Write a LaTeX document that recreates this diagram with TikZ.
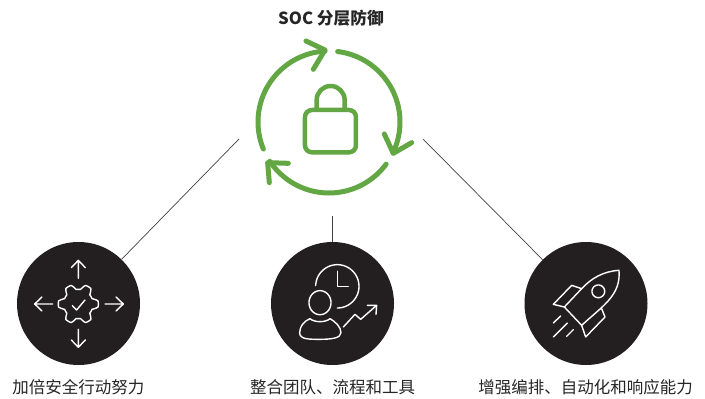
\documentclass[tikz,border=0pt]{standalone}
\usepackage{fontspec}
\setmainfont{Noto Sans CJK SC}
\definecolor{ringgreen}{HTML}{62A744}
\definecolor{discdark}{HTML}{231F20}
\definecolor{textdark}{HTML}{262626}
\tikzset{
  disc/.style={circle,fill=discdark,draw=none,minimum size=123pt,inner sep=0pt},
  link/.style={draw=discdark!85,line width=0.7pt},
  ringline/.style={draw=ringgreen,line width=5pt,line cap=round,line join=round},
  lockline/.style={draw=ringgreen,line width=4.5pt,line cap=round,line join=round},
  icon/.style={draw=white,line width=1.4pt,line cap=round,line join=round},
  caption/.style={font=\fontsize{16.5pt}{18pt}\selectfont,text=textdark,inner sep=0pt},
  heading/.style={font=\fontsize{16.7pt}{18pt}\selectfont\bfseries,text=textdark,inner sep=0pt}
}
\begin{document}
\begin{tikzpicture}[x=1pt,y=-1pt]
\useasboundingbox (0,0) rectangle (705,399);
\fill[white] (0,0) rectangle (705,399);
\node[heading] (title) at (331,18) {SOC 分层防御};
% ring
\draw[ringline] plot[domain=157.7:266.8,samples=40] ({329+71*cos(\x)},{122+71*sin(\x)});
\draw[ringline] plot[domain=277:385.8,samples=40] ({329+71*cos(\x)},{122+71*sin(\x)});
\draw[ringline] plot[domain=36.4:146.4,samples=40] ({329+71*cos(\x)},{122+71*sin(\x)});
\begin{scope}[shift={(230,0)},x=0.3333pt,y=-0.3333pt]
\draw[ringline] (228,123) -- (285,150) -- (250,208);
\draw[ringline] (463,402) -- (490,460) -- (545,428);
\draw[ringline] (175,490) -- (113,488) -- (118,548);
\draw[lockline,rounded corners=7pt] (225,330) rectangle (378,457);
\draw[lockline] (260,328) -- (260,300) arc[start angle=180,end angle=0,x radius=42,y radius=-42] -- (344,328);
\end{scope}
% discs
\node[disc] (d1) at (78.5,303.5) {};
\node[disc] (d2) at (332.5,303.5) {};
\node[disc] (d3) at (586,303.5) {};
\coordinate (a1) at (239,139);
\coordinate (a2) at (332.5,216);
\coordinate (a3) at (423,139);
\draw[link] (a1) -- (d1);
\draw[link] (a2) -- (d2);
\draw[link] (a3) -- (d3);
% icon 1
\begin{scope}[shift={(10,235)},x=0.3333pt,y=-0.3333pt]
\draw[icon] (205,130) -- (205,76) (184,98) -- (205,76) -- (226,98);
\draw[icon] (205,283) -- (205,337) (184,315) -- (205,337) -- (226,315);
\draw[icon] (128,207) -- (74,207) (96,186) -- (74,207) -- (96,228);
\draw[icon] (285,207) -- (340,207) (318,186) -- (340,207) -- (318,228);
\draw[icon] plot[domain=0:360,samples=361] ({205+(52+8*max(-1,min(1,1.6*cos(6*\x))))*cos(\x)},{207+(52+8*max(-1,min(1,1.6*cos(6*\x))))*sin(\x)}) -- cycle;
\draw[icon] (187,212) -- (200,225) -- (225,195);
\end{scope}
% icon 2
\begin{scope}[shift={(295,262)},x=0.3333pt,y=-0.3333pt]
\draw[icon] plot[domain=-178:90,samples=60] ({127+65*cos(\x)},{73+65*sin(\x)});
\draw[icon] (127,28) -- (127,73) -- (160,73);
\draw[icon] plot[domain=0:360,samples=60] ({75+33*cos(\x)},{122+36*sin(\x)});
\draw[icon] (45,170) .. controls (25,178) and (14,195) .. (14,212) .. controls (14,232) and (40,232) .. (75,232) .. controls (110,232) and (138,228) .. (138,212) .. controls (138,195) and (120,178) .. (105,170) .. controls (92,182) and (58,182) .. (45,170) -- cycle;
\draw[icon] (145,195) -- (180,157) -- (197,172) -- (245,130) (217,130) -- (245,130) -- (243,157);
\end{scope}
% icon 3
\begin{scope}[shift={(545,262)},x=0.3333pt,y=-0.3333pt]
\draw[icon] (222,25) .. controls (175,28) and (140,48) .. (110,80) -- (58,135) -- (110,190) .. controls (175,130) and (228,100) .. (222,25) -- cycle;
\draw[icon] plot[domain=0:360,samples=60] ({160+19*cos(\x)},{88+19*sin(\x)});
\draw[icon] (110,80) -- (80,70) -- (25,127) -- (58,135);
\draw[icon] (170,140) -- (180,165) -- (122,225) -- (110,190);
\draw[icon] (47,162) -- (25,183);
\draw[icon] (67,183) -- (25,225);
\draw[icon] (85,203) -- (65,223);
\end{scope}
% captions
\node[caption] (t1) at (78.5,387) {加倍安全行动努力};
\node[caption] (t2) at (332.5,387) {整合团队、流程和工具};
\node[caption] (t3) at (585.5,387) {增强编排、自动化和响应能力};
\end{tikzpicture}
\end{document}
